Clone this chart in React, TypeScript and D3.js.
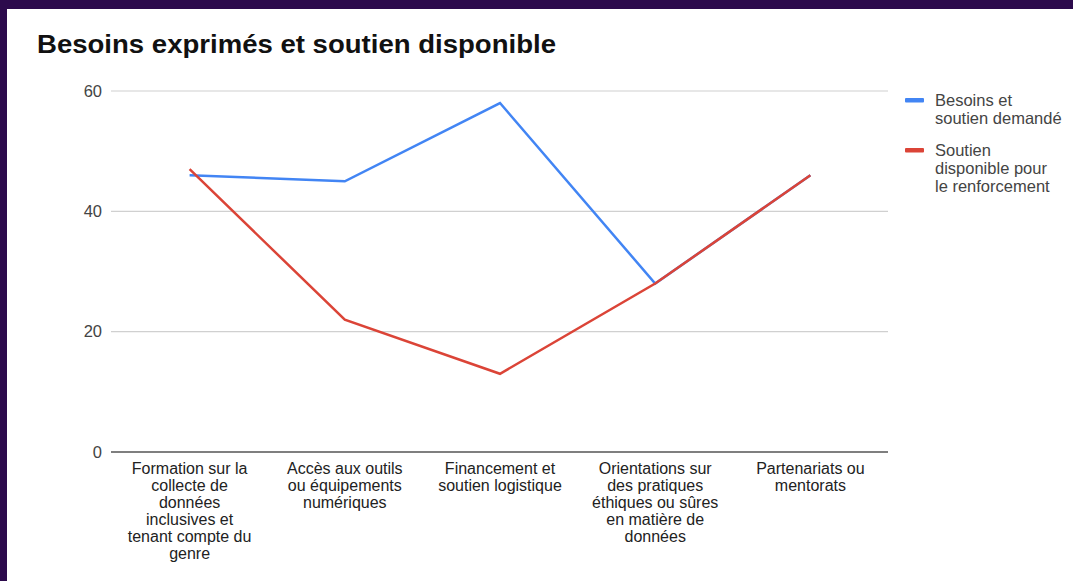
import React from "react";
import * as d3 from "d3";

const categories = [
  ["Formation sur la", "collecte de", "données", "inclusives et", "tenant compte du", "genre"],
  ["Accès aux outils", "ou équipements", "numériques"],
  ["Financement et", "soutien logistique"],
  ["Orientations sur", "des pratiques", "éthiques ou sûres", "en matière de", "données"],
  ["Partenariats ou", "mentorats"],
];
const besoins = [46, 45, 58, 28, 46];
const soutien = [47, 22, 13, 28, 46];
const yTicks = [0, 20, 40, 60];
const seriesNames = [["Besoins et", "soutien demandé"], ["Soutien", "disponible pour", "le renforcement"]];
const colors = ["#4285F4", "#DB4437"];

export default function App() {
  const W = 1073, H = 581;
  const x = d3.scaleBand<number>().domain(d3.range(categories.length)).range([112, 888]);
  const y = d3.scaleLinear().domain([0, 60]).range([452, 91]);
  const line = d3.line<number>().x((_, i) => (x(i) as number) + x.bandwidth() / 2).y((d) => y(d));
  const font = "Arial, 'Liberation Sans', sans-serif";
  return (
    <div style={{ position: "absolute", left: 0, top: 0 }}>
      <svg width={W} height={H} style={{ display: "block" }} fontFamily={font}>
        <rect width={W} height={H} fill="#2c0a4c" />
        <rect x={7} y={9} width={W - 7} height={H - 9} fill="#ffffff" />
        <text x={37} y={53} fontSize={26} fontWeight="bold" fill="#111" textLength={519} lengthAdjust="spacingAndGlyphs">Besoins exprimés et soutien disponible</text>
        {yTicks.map((t) => (
          <g key={t}>
            <line x1={111} x2={888} y1={y(t)} y2={y(t)} stroke={t === 0 ? "#555" : "#d0d0d0"} strokeWidth={t === 0 ? 1.5 : 1.2} />
            <text x={102} y={y(t)} dy="0.35em" textAnchor="end" fontSize={16.5} fill="#444">{t}</text>
          </g>
        ))}
        {categories.map((lines, i) => (
          <text key={i} x={(x(i) as number) + x.bandwidth() / 2} y={474} textAnchor="middle" fontSize={16} fill="#222">
            {lines.map((l, j) => (
              <tspan key={j} x={(x(i) as number) + x.bandwidth() / 2} dy={j === 0 ? 0 : 17}>{l}</tspan>
            ))}
          </text>
        ))}
        <path d={line(besoins) || ""} fill="none" stroke={colors[0]} strokeWidth={2.5} />
        <path d={line(soutien) || ""} fill="none" stroke={colors[1]} strokeWidth={2.5} />
        {seriesNames.map((lines, i) => {
          const top = i === 0 ? 100 : 150;
          return (
            <g key={i}>
              <rect x={905} y={top - 2} width={19} height={4.5} rx={1} fill={colors[i]} />
              <text x={935} y={top} fontSize={16.5} fill="#444">
                {lines.map((l, j) => (
                  <tspan key={j} x={935} dy={j === 0 ? "0.35em" : 18}>{l}</tspan>
                ))}
              </text>
            </g>
          );
        })}
      </svg>
    </div>
  );
}
